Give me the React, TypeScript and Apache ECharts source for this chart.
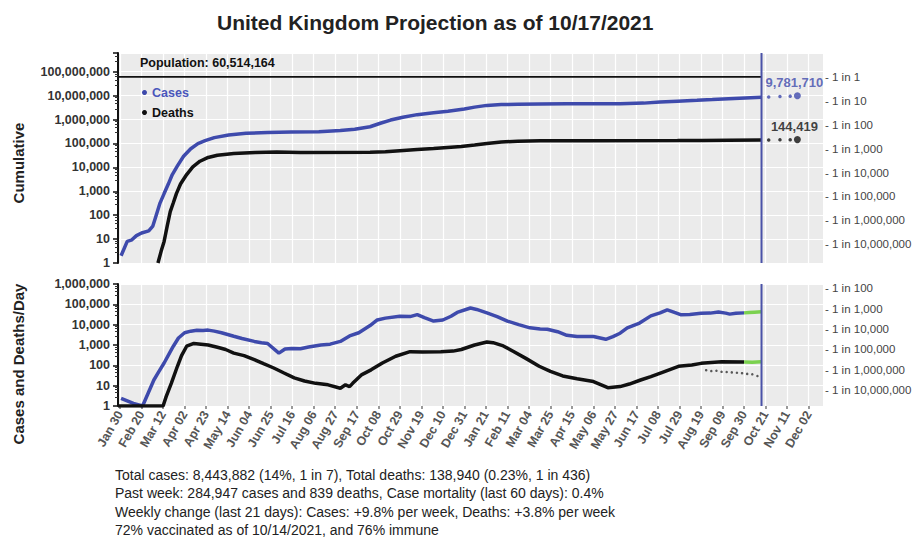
import React, { useEffect, useRef } from 'react';
import * as echarts from 'echarts';

const POPULATION = 60514164;
const START = '2020-01-28';
const END = '2021-12-16';
const TODAY = '2021-10-17';
const TICK_ANCHOR = '2020-01-30';
const TICK_STEP = 21;
const MONTHS = ['Jan', 'Feb', 'Mar', 'Apr', 'May', 'Jun', 'Jul', 'Aug', 'Sep', 'Oct', 'Nov', 'Dec'];

const cumulativeCases: [string, number][] = [
  ['2020-01-31', 2], ['2020-02-06', 8], ['2020-02-10', 9], ['2020-02-15', 14], ['2020-02-20', 18],
  ['2020-02-27', 22], ['2020-03-02', 35], ['2020-03-05', 90], ['2020-03-09', 320], ['2020-03-13', 800],
  ['2020-03-17', 1950], ['2020-03-21', 5000], ['2020-03-26', 11500], ['2020-04-01', 29000],
  ['2020-04-08', 60000], ['2020-04-15', 98000], ['2020-04-22', 130000], ['2020-05-01', 175000],
  ['2020-05-15', 225000], ['2020-06-01', 265000], ['2020-06-22', 290000], ['2020-07-15', 300000],
  ['2020-08-11', 310000], ['2020-09-01', 345000], ['2020-09-15', 390000], ['2020-09-30', 500000],
  ['2020-10-10', 700000], ['2020-10-20', 950000], ['2020-11-01', 1250000], ['2020-11-15', 1600000],
  ['2020-12-01', 1900000], ['2020-12-15', 2200000], ['2020-12-31', 2750000], ['2021-01-10', 3300000],
  ['2021-01-22', 3900000], ['2021-02-05', 4200000], ['2021-02-21', 4350000], ['2021-03-15', 4450000],
  ['2021-04-10', 4520000], ['2021-05-06', 4560000], ['2021-06-01', 4620000], ['2021-06-24', 4850000],
  ['2021-07-10', 5350000], ['2021-07-27', 5850000], ['2021-08-15', 6350000], ['2021-08-30', 6800000],
  ['2021-09-15', 7400000], ['2021-10-01', 7900000], ['2021-10-17', 8443882],
];

const cumulativeDeaths: [string, number][] = [
  ['2020-03-07', 1], ['2020-03-10', 3], ['2020-03-13', 8], ['2020-03-16', 35], ['2020-03-19', 140],
  ['2020-03-22', 330], ['2020-03-25', 800], ['2020-03-29', 2000], ['2020-04-04', 5000],
  ['2020-04-10', 10500], ['2020-04-17', 18000], ['2020-04-25', 26000], ['2020-05-04', 32000],
  ['2020-05-20', 38000], ['2020-06-10', 42000], ['2020-07-01', 44000], ['2020-07-24', 42000],
  ['2020-09-30', 42500], ['2020-10-15', 44500], ['2020-10-29', 50000], ['2020-11-15', 56000],
  ['2020-12-01', 62000], ['2020-12-28', 75000], ['2021-01-10', 86000], ['2021-01-22', 100000],
  ['2021-02-05', 115000], ['2021-02-21', 124000], ['2021-03-15', 128000], ['2021-05-01', 130000],
  ['2021-07-27', 131500], ['2021-08-20', 133500], ['2021-09-15', 136500], ['2021-10-17', 138940],
];

const projectedCases: [string, number][] = [
  ['2021-10-24', 8750000], ['2021-11-04', 9150000], ['2021-11-14', 9500000], ['2021-11-21', 9781710],
];
const projectedDeaths: [string, number][] = [
  ['2021-10-24', 140000], ['2021-11-04', 141600], ['2021-11-14', 143100], ['2021-11-21', 144419],
];

const dailyCases: [string, number][] = [
  ['2020-01-31', 2.4], ['2020-02-06', 1.8], ['2020-02-12', 1.35], ['2020-02-21', 1], ['2020-03-03', 19],
  ['2020-03-08', 50], ['2020-03-13', 130], ['2020-03-18', 380], ['2020-03-22', 870], ['2020-03-27', 2200],
  ['2020-04-02', 4000], ['2020-04-08', 4800], ['2020-04-14', 5300], ['2020-04-20', 5100],
  ['2020-04-25', 5400], ['2020-05-01', 4800], ['2020-05-08', 4000], ['2020-05-14', 3300],
  ['2020-05-20', 2700], ['2020-05-28', 2100], ['2020-06-09', 1500], ['2020-06-16', 1300],
  ['2020-06-22', 1180], ['2020-07-03', 400], ['2020-07-09', 640], ['2020-07-16', 680],
  ['2020-07-24', 650], ['2020-08-01', 800], ['2020-08-13', 1000], ['2020-08-22', 1100],
  ['2020-09-01', 1500], ['2020-09-10', 2800], ['2020-09-19', 4000], ['2020-09-30', 9000],
  ['2020-10-07', 17000], ['2020-10-15', 21000], ['2020-10-29', 26000], ['2020-11-08', 25000],
  ['2020-11-15', 31000], ['2020-11-22', 22000], ['2020-12-01', 15000], ['2020-12-10', 17000],
  ['2020-12-18', 26000], ['2020-12-24', 40000], ['2021-01-06', 66000], ['2021-01-12', 56000],
  ['2021-01-22', 38000], ['2021-02-01', 25000], ['2021-02-11', 15000], ['2021-02-22', 10000],
  ['2021-03-05', 7000], ['2021-03-15', 6200], ['2021-03-22', 6000], ['2021-04-01', 4500],
  ['2021-04-10', 3000], ['2021-04-20', 2600], ['2021-05-06', 2600], ['2021-05-18', 1900],
  ['2021-05-25', 2600], ['2021-06-01', 3800], ['2021-06-08', 7000], ['2021-06-20', 12000],
  ['2021-07-01', 27000], ['2021-07-10', 38000], ['2021-07-17', 54000], ['2021-07-24', 40000],
  ['2021-07-30', 31000], ['2021-08-08', 32000], ['2021-08-19', 36000], ['2021-08-28', 37000],
  ['2021-09-05', 42000], ['2021-09-12', 37000], ['2021-09-16', 33000], ['2021-09-22', 36000],
  ['2021-09-30', 38000],
];
const dailyCasesRecent: [string, number][] = [
  ['2021-09-30', 38000], ['2021-10-05', 39500], ['2021-10-10', 41000], ['2021-10-17', 42899],
];

const dailyDeaths: [string, number][] = [
  ['2020-01-28', 1], ['2020-03-12', 1], ['2020-03-15', 2.9], ['2020-03-20', 13], ['2020-03-26', 90],
  ['2020-03-30', 300], ['2020-04-04', 870], ['2020-04-11', 1200], ['2020-04-18', 1100],
  ['2020-04-25', 1000], ['2020-05-05', 750], ['2020-05-12', 600], ['2020-05-20', 400],
  ['2020-05-30', 300], ['2020-06-09', 190], ['2020-06-18', 120], ['2020-06-28', 74],
  ['2020-07-08', 42], ['2020-07-18', 24], ['2020-07-28', 17], ['2020-08-08', 13], ['2020-08-20', 11],
  ['2020-09-01', 7.5], ['2020-09-06', 11], ['2020-09-10', 9], ['2020-09-13', 13], ['2020-09-22', 35],
  ['2020-10-01', 60], ['2020-10-12', 130], ['2020-10-25', 280], ['2020-11-08', 470],
  ['2020-11-20', 450], ['2020-12-08', 460], ['2020-12-20', 500], ['2020-12-28', 600],
  ['2021-01-10', 1000], ['2021-01-22', 1400], ['2021-01-28', 1300], ['2021-02-07', 900],
  ['2021-02-17', 480], ['2021-03-01', 220], ['2021-03-14', 90], ['2021-03-25', 50],
  ['2021-04-06', 30], ['2021-04-20', 22], ['2021-05-06', 16], ['2021-05-20', 8], ['2021-06-01', 9],
  ['2021-06-10', 12], ['2021-06-21', 19], ['2021-07-01', 28], ['2021-07-11', 43], ['2021-07-28', 89],
  ['2021-08-10', 105], ['2021-08-19', 125], ['2021-09-08', 150], ['2021-09-30', 145],
];
const dailyDeathsRecent: [string, number][] = [
  ['2021-09-30', 145], ['2021-10-08', 140], ['2021-10-17', 148],
];
const dailyDeathsByDate: [string, number][] = [
  ['2021-08-24', 58], ['2021-08-29', 52], ['2021-09-03', 54], ['2021-09-08', 48], ['2021-09-13', 47],
  ['2021-09-18', 45], ['2021-09-23', 43], ['2021-09-28', 41], ['2021-10-03', 38], ['2021-10-08', 36],
  ['2021-10-13', 30],
];

const footerLines = [
  'Total cases: 8,443,882 (14%, 1 in 7), Total deaths: 138,940 (0.23%, 1 in 436)',
  'Past week: 284,947 cases and 839 deaths, Case mortality (last 60 days): 0.4%',
  'Weekly change (last 21 days): Cases: +9.8% per week, Deaths: +3.8% per week',
  '72% vaccinated as of 10/14/2021, and 76% immune',
];

const FONT = "'Liberation Sans', Arial, sans-serif";
const BLUE = '#3e4aac';
const BLACK = '#111111';
const GREEN = '#7bd14f';
const GRID_BG = '#ebebeb';
const WIDTH = 915;
const HEIGHT = 548;

const DAY = 86400000;
const startMs = Date.parse(START + 'T00:00:00Z');
const idx = (d: string) => Math.round((Date.parse(d + 'T00:00:00Z') - startMs) / DAY);
const categories = Array.from({ length: idx(END) + 1 }, (_, i) =>
  new Date(startMs + i * DAY).toISOString().slice(0, 10)
);
const anchor = idx(TICK_ANCHOR);
const isTick = (i: number) => i >= anchor && (i - anchor) % TICK_STEP === 0;
const pts = (arr: [string, number][]) => arr.map(([d, v]) => [idx(d), v]);
const fmtDate = (s: string) => MONTHS[Number(s.slice(5, 7)) - 1] + ' ' + s.slice(8, 10);

const powLabel = (v: number) => {
  const l = Math.log10(v);
  const r = Math.round(l);
  if (Math.abs(l - r) > 1e-6 || r < 0) return null;
  return Math.pow(10, r).toLocaleString('en-US');
};
const leftFmt = (v: number) => powLabel(v) ?? '';
const rightFmt = (v: number) => {
  const s = powLabel(v);
  return s === null ? '' : '- 1 in ' + s;
};

const TOP_MAX = POPULATION * 10;
const BOT_MAX = 1e6;

function buildOption(): any {
  const xBase = (gridIndex: number, labels: boolean) => ({
    type: 'category',
    gridIndex,
    data: categories,
    boundaryGap: false,
    axisLine: { show: false },
    axisTick: labels
      ? { show: true, interval: (i: number) => isTick(i), length: 3, lineStyle: { color: '#777', width: 1.5 } }
      : { show: false },
    axisLabel: labels
      ? {
          show: true,
          interval: (i: number) => isTick(i),
          formatter: fmtDate,
          rotate: 60,
          fontSize: 12.5,
          fontWeight: 'bold',
          color: '#555',
          fontFamily: FONT,
          margin: 6,
        }
      : { show: false },
    splitLine: { show: true, interval: (i: number) => isTick(i), lineStyle: { color: '#ffffff', width: 1.2 } },
  });
  const yLeft = (gridIndex: number, max: number) => ({
    type: 'log',
    logBase: 10,
    gridIndex,
    min: 1,
    max,
    splitNumber: 9,
    axisLine: { show: true, lineStyle: { color: BLACK, width: 2 } },
    axisTick: { show: true, length: 5, lineStyle: { color: BLACK, width: 1.5 } },
    minorTick: { show: true, splitNumber: 5, length: 3, lineStyle: { color: '#333' } },
    axisLabel: { formatter: leftFmt, fontSize: 12.5, fontWeight: 'bold', color: '#333', fontFamily: FONT, margin: 8 },
    splitLine: { show: true, lineStyle: { color: '#ffffff', width: 1.2 } },
  });
  const yRight = (gridIndex: number, max: number) => ({
    type: 'log',
    logBase: 10,
    gridIndex,
    position: 'right',
    inverse: true,
    min: POPULATION / max,
    max: POPULATION,
    splitNumber: 9,
    axisLine: { show: false },
    axisTick: { show: false },
    splitLine: { show: false },
    axisLabel: { formatter: rightFmt, fontSize: 11.5, color: '#444', fontFamily: FONT, margin: 2 },
  });
  const line = (name: string, xi: number, yi: number, data: any[], color: string, width = 3.5, extra: any = {}) => ({
    type: 'line',
    name,
    xAxisIndex: xi,
    yAxisIndex: yi,
    data,
    showSymbol: false,
    symbol: 'none',
    lineStyle: { color, width },
    itemStyle: { color },
    silent: true,
    ...extra,
  });
  const today = idx(TODAY);
  const projScatter = (name: string, data: [string, number][], color: string) => ({
    type: 'scatter',
    name,
    xAxisIndex: 0,
    yAxisIndex: 0,
    silent: true,
    itemStyle: { color },
    data: pts(data).map((p, i, arr) =>
      i === arr.length - 1
        ? {
            value: p,
            symbolSize: 7,
            label: {
              show: true,
              position: 'top',
              distance: 3,
              offset: [-3, 0],
              formatter: () => (p[1] as number).toLocaleString('en-US'),
              color,
              fontSize: 13,
              fontWeight: 'bold',
              fontFamily: FONT,
            },
          }
        : { value: p, symbolSize: 3.5 }
    ),
  });
  const endLabel = (data: [string, number][], color: string) =>
    pts(data).map((p, i, arr) =>
      i === arr.length - 1
        ? {
            value: p,
            label: {
              show: true,
              position: 'right',
              distance: 9,
              formatter: () => (p[1] as number).toLocaleString('en-US'),
              color,
              fontSize: 13,
              fontWeight: 'bold',
              fontFamily: FONT,
            },
          }
        : p
    );
  const gridCommon = {
    left: 118,
    right: 92,
    show: true,
    backgroundColor: GRID_BG,
    borderWidth: 0,
    containLabel: false,
    outerBoundsMode: 'none',
  };

  return {
    animation: false,
    backgroundColor: '#ffffff',
    textStyle: { fontFamily: FONT },
    title: {
      text: 'United Kingdom Projection as of 10/17/2021',
      left: 212,
      top: 7,
      textStyle: { fontSize: 21, fontWeight: 'bold', color: '#222', fontFamily: FONT },
    },
    legend: {
      left: 137,
      top: 81,
      orient: 'vertical',
      selectedMode: false,
      icon: 'circle',
      itemWidth: 5,
      itemHeight: 5,
      itemGap: 7,
      textStyle: { fontSize: 12.5, fontWeight: 'bold', fontFamily: FONT },
      data: [
        { name: 'Cases', textStyle: { color: '#4a56bb' } },
        { name: 'Deaths', textStyle: { color: BLACK } },
      ],
    },
    grid: [
      { ...gridCommon, top: 53, height: 210 },
      { ...gridCommon, top: 284, height: 122 },
    ],
    xAxis: [xBase(0, false), xBase(1, true)],
    yAxis: [yLeft(0, TOP_MAX), yRight(0, TOP_MAX), yLeft(1, BOT_MAX), yRight(1, BOT_MAX)],
    graphic: [
      {
        type: 'text',
        left: 140,
        top: 56,
        z: 100,
        style: { text: 'Population: ' + POPULATION.toLocaleString('en-US'), fontSize: 12.5, fontWeight: 'bold', fill: BLACK, fontFamily: FONT },
      },
      {
        type: 'text',
        x: 18,
        y: 163,
        rotation: Math.PI / 2,
        style: { text: 'Cumulative', fontSize: 15, fontWeight: 'bold', fill: '#222', fontFamily: FONT, align: 'center', verticalAlign: 'middle' },
      },
      {
        type: 'text',
        x: 18,
        y: 364,
        rotation: Math.PI / 2,
        style: { text: 'Cases and Deaths/Day', fontSize: 15, fontWeight: 'bold', fill: '#222', fontFamily: FONT, align: 'center', verticalAlign: 'middle' },
      },
      {
        type: 'text',
        left: 115,
        top: 466,
        style: { text: footerLines.join('\n'), fontSize: 14, lineHeight: 18.3, fill: '#222', fontFamily: FONT },
      },
    ],
    series: [
      line('Population', 0, 0, [[0, POPULATION], [today, POPULATION]], BLACK, 1.8),
      line('Cases', 0, 0, pts(cumulativeCases), BLUE),
      line('Deaths', 0, 0, pts(cumulativeDeaths), BLACK),
      projScatter('Cases projection', projectedCases, BLUE),
      projScatter('Deaths projection', projectedDeaths, BLACK),
      line('Today', 0, 0, [[today, 1], [today, TOP_MAX]], '#4a52a8', 2, { z: 5 }),
      line('Cases', 1, 2, pts(dailyCases), BLUE),
      line('Deaths', 1, 2, pts(dailyDeaths), BLACK),
      {
        type: 'scatter',
        name: 'Deaths by date',
        xAxisIndex: 1,
        yAxisIndex: 2,
        silent: true,
        symbolSize: 2.5,
        itemStyle: { color: '#333' },
        data: pts(dailyDeathsByDate),
      },
      line('Cases recent', 1, 2, endLabel(dailyCasesRecent, BLUE), GREEN, 3.5),
      line('Deaths recent', 1, 2, endLabel(dailyDeathsRecent, BLACK), GREEN, 3.5),
      line('Today', 1, 2, [[today, 1], [today, BOT_MAX]], '#4a52a8', 2, { z: 5 }),
    ],
  };
}

export default function App() {
  const ref = useRef<HTMLDivElement>(null);
  useEffect(() => {
    document.body.style.margin = '0';
    document.documentElement.style.overflow = 'hidden';
    document.body.style.overflow = 'hidden';
    if (!ref.current) return;
    const chart = echarts.init(ref.current, undefined, { renderer: 'svg', width: WIDTH, height: HEIGHT });
    chart.setOption(buildOption());
    return () => chart.dispose();
  }, []);
  return (
    <div
      ref={ref}
      style={{ position: 'absolute', left: 0, top: 0, width: WIDTH, height: HEIGHT, overflow: 'hidden' }}
    />
  );
}
